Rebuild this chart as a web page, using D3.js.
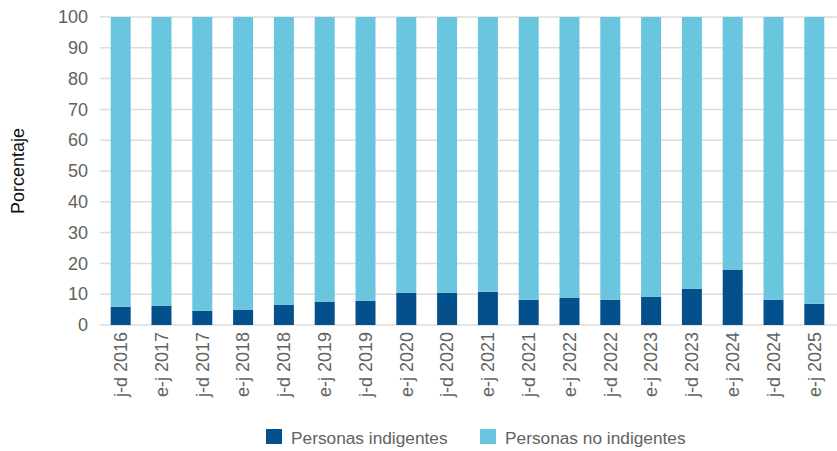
<!DOCTYPE html>
<html>
<head>
<meta charset="utf-8">
<script src="https://cdn.jsdelivr.net/npm/d3@7"></script>
<style>
  html, body { margin: 0; padding: 0; background: #fff; }
  svg { display: block; font-family: "Liberation Sans", Arial, sans-serif; }
</style>
</head>
<body>
<svg id="chart" width="837" height="451"></svg>
<script>
// Periods (e-j = enero-junio, j-d = julio-diciembre)
const categories = [
  "j-d 2016", "e-j 2017", "j-d 2017", "e-j 2018", "j-d 2018", "e-j 2019",
  "j-d 2019", "e-j 2020", "j-d 2020", "e-j 2021", "j-d 2021", "e-j 2022",
  "j-d 2022", "e-j 2023", "j-d 2023", "e-j 2024", "j-d 2024", "e-j 2025"
];
// Share of people in extreme poverty (%)
const indigentes = [
  5.9, 6.3, 4.6, 5.0, 6.6, 7.6, 7.9, 10.5, 10.5,
  10.8, 8.2, 8.9, 8.2, 9.2, 11.8, 18.0, 8.2, 6.9
];
// Remaining share (%)
const noIndigentes = indigentes.map(v => +(100 - v).toFixed(1));
const yTicks = [0, 10, 20, 30, 40, 50, 60, 70, 80, 90, 100];
const seriesNames = ["Personas indigentes", "Personas no indigentes"];
const seriesColors = ["#04508c", "#6ac5de"];

const svg = d3.select("#chart");

const x = d3.scaleBand()
  .domain(categories)
  .range([100.5, 834.5])
  .paddingInner(0.51)
  .paddingOuter(0.25);

const y = d3.scaleLinear().domain([0, 100]).range([325, 17]);

// Horizontal grid
svg.append("g")
  .selectAll("line")
  .data(yTicks)
  .join("line")
  .attr("x1", 100).attr("x2", 837)
  .attr("y1", d => y(d)).attr("y2", d => y(d))
  .attr("stroke", "#dcdcdc")
  .attr("stroke-width", 1.5);

// Y axis labels
const yAxis = svg.append("g")
  .attr("transform", "translate(100,0)")
  .call(d3.axisLeft(y).tickValues(yTicks).tickSize(0).tickPadding(12));
yAxis.select(".domain").remove();
yAxis.selectAll("text")
  .attr("font-size", 18)
  .attr("font-family", "Liberation Sans, Arial, sans-serif")
  .attr("fill", "#626262");

// Stacked bars
const rows = categories.map((c, i) => ({
  cat: c,
  [seriesNames[0]]: indigentes[i],
  [seriesNames[1]]: noIndigentes[i]
}));
const stack = d3.stack().keys(seriesNames)(rows);

svg.append("g")
  .selectAll("g")
  .data(stack)
  .join("g")
  .attr("fill", (d, i) => seriesColors[i])
  .selectAll("rect")
  .data(d => d)
  .join("rect")
  .attr("x", d => x(d.data.cat))
  .attr("width", x.bandwidth())
  .attr("y", d => y(d[1]))
  .attr("height", d => y(d[0]) - y(d[1]));

// X axis labels (rotated)
const xAxis = svg.append("g")
  .attr("transform", `translate(0,${y(0)})`)
  .call(d3.axisBottom(x).tickSize(0).tickPadding(0));
xAxis.select(".domain").remove();
xAxis.selectAll("text")
  .attr("font-size", 18)
  .attr("font-family", "Liberation Sans, Arial, sans-serif")
  .attr("fill", "#626262")
  .attr("text-anchor", "end")
  .attr("transform", "rotate(-90)")
  .attr("x", -7)
  .attr("y", 0)
  .attr("dy", "0.35em");

// Y axis title
svg.append("text")
  .attr("transform", "translate(24,171) rotate(-90)")
  .attr("text-anchor", "middle")
  .attr("font-size", 18)
  .attr("fill", "#111")
  .text("Porcentaje");

// Legend
const legendX = [266, 480];
const legend = svg.append("g")
  .selectAll("g")
  .data(seriesNames)
  .join("g")
  .attr("transform", (d, i) => `translate(${legendX[i]},429)`);
legend.append("rect")
  .attr("width", 16).attr("height", 15)
  .attr("fill", (d, i) => seriesColors[i]);
legend.append("text")
  .attr("x", 25)
  .attr("y", 15)
  .attr("font-size", 17.3)
  .attr("fill", "#626262")
  .text(d => d);
</script>
</body>
</html>
